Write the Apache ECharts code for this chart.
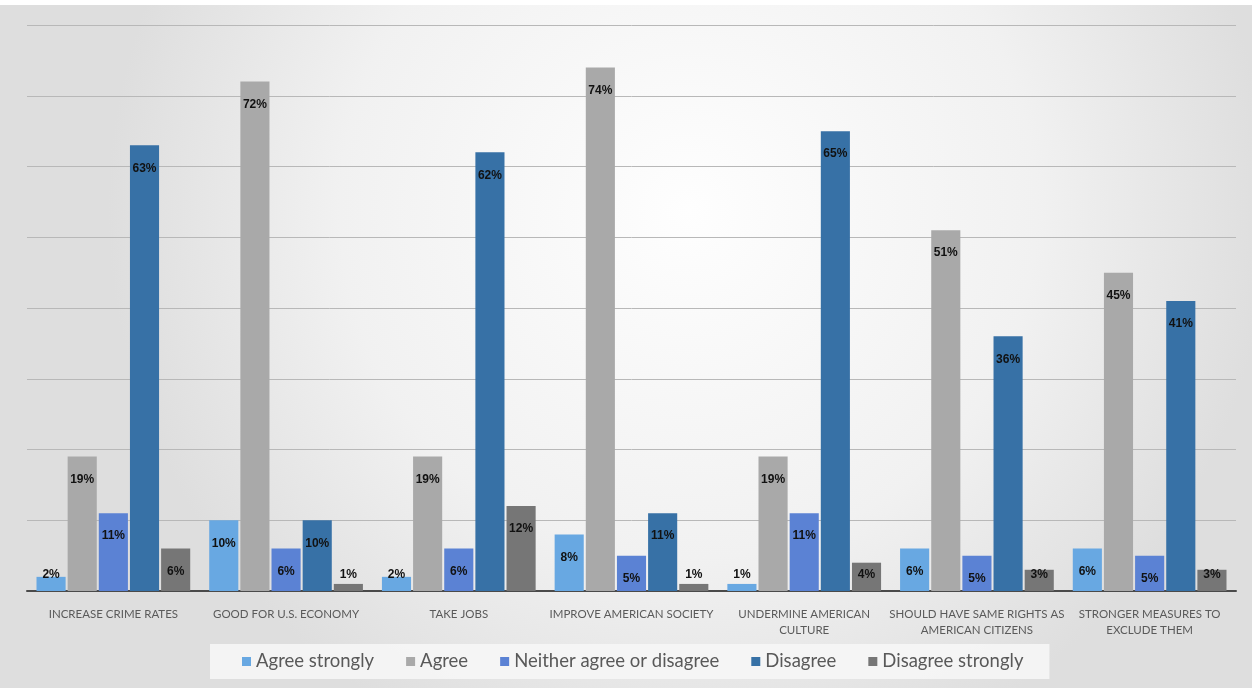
<!DOCTYPE html>
<html><head><meta charset="utf-8">
<script src="https://cdn.jsdelivr.net/npm/echarts@6/dist/echarts.min.js"></script>
<style>html,body{margin:0;padding:0;background:#fff;}#c{position:absolute;left:0;top:5px;width:1252px;height:683px;}</style>
</head><body><div id="c"></div>
<script>
const categories = ["INCREASE CRIME RATES","GOOD FOR U.S. ECONOMY","TAKE JOBS","IMPROVE AMERICAN SOCIETY","UNDERMINE AMERICAN\nCULTURE","SHOULD HAVE SAME RIGHTS AS\nAMERICAN CITIZENS","STRONGER MEASURES TO\nEXCLUDE THEM"];
const seriesNames = ["Agree strongly","Agree","Neither agree or disagree","Disagree","Disagree strongly"];
const agreeStrongly = [2,10,2,8,1,6,6];
const agree = [19,72,19,74,19,51,45];
const neither = [11,6,6,5,11,5,5];
const disagree = [63,10,62,11,65,36,41];
const disagreeStrongly = [6,1,12,1,4,3,3];
const colors = ["#68a8e2","#a9a9a9","#5b82d4","#3771a6","#767676"];
const allValues = [agreeStrongly, agree, neither, disagree, disagreeStrongly];

function mkData(vals){
  return vals.map(v => {
    const lab = v < 5 ? {position:'insideBottom', distance:10} : {position:'insideTop', distance:17};
    return {value:v, label:lab};
  });
}
const chart = echarts.init(document.getElementById('c'));
chart.setOption({
  backgroundColor:{type:'radial',x:0.55,y:0.3,r:0.85,colorStops:[{offset:0,color:'#fefefe'},{offset:0.6,color:'#f1f1f1'},{offset:1,color:'#dedede'}]},
  animation:false,
  grid:{left:27,right:16,top:20,bottom:97},
  legend:{
    data:seriesNames, left:210, bottom:9, itemWidth:9, itemHeight:9, itemGap:32,
    padding:[8,26,8,32], backgroundColor:'rgba(246,246,246,0.9)',
    icon:'rect',
    textStyle:{fontFamily:'Lato',fontSize:18.5,color:'#595959'}
  },
  xAxis:{type:'category',data:categories,
    axisLine:{lineStyle:{color:'#4a4a4a',width:2}},axisTick:{show:false},
    axisLabel:{fontFamily:'Lato',fontSize:11.5,color:'#5a5a5a',margin:15,lineHeight:16,interval:0}},
  yAxis:{type:'value',min:0,max:80,interval:10,axisLabel:{show:false},axisLine:{show:false},axisTick:{show:false},
    splitLine:{lineStyle:{color:'#b8b8b8',width:1}}},
  series: seriesNames.map((n,i)=>({
    name:n,type:'bar',data:mkData(allValues[i]),
    itemStyle:{color:colors[i]},
    barGap:'7%',barCategoryGap:'11%',
    label:{show:true,formatter:'{c}%',fontFamily:'Liberation Sans',fontWeight:'bold',fontSize:12,color:'#111'}
  }))
});
</script></body></html>
